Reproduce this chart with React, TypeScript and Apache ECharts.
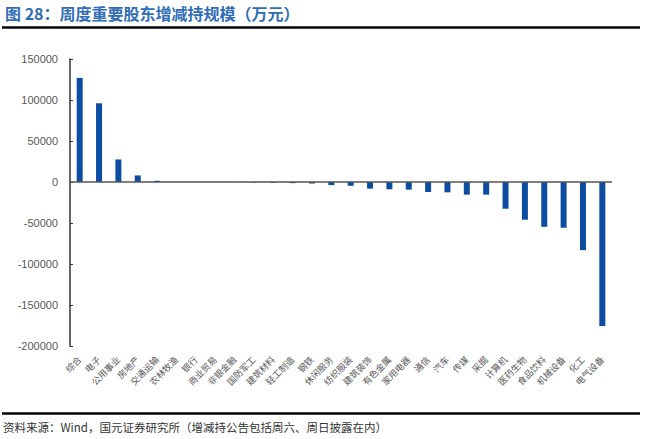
import React, { useEffect, useRef } from "react";
import * as echarts from "echarts";

const categories = [
  "综合", "电子", "公用事业", "房地产", "交通运输", "农林牧渔", "银行", "商业贸易",
  "非银金融", "国防军工", "建筑材料", "轻工制造", "钢铁", "休闲服务", "纺织服装", "建筑装饰",
  "有色金属", "家用电器", "通信", "汽车", "传媒", "采掘", "计算机", "医药生物",
  "食品饮料", "机械设备", "化工", "电气设备",
];

const values = [
  127000, 96000, 27500, 8000, 1500, 300, 0, 0,
  -200, -600, -1000, -1400, -1800, -3800, -4600, -8100,
  -8900, -9300, -12200, -12600, -15400, -15400, -32600, -46000,
  -54600, -55800, -83100, -175500,
];

const yMin = -200000;
const yMax = 150000;
const yInterval = 50000;

const titleText = "图 28：周度重要股东增减持规模（万元）";
const sourceText = "资料来源：Wind，国元证券研究所（增减持公告包括周六、周日披露在内）";

export default function App() {
  const ref = useRef<HTMLDivElement>(null);
  useEffect(() => {
    if (!ref.current) return;
    const chart = echarts.init(ref.current, null, { renderer: "svg" });
    chart.setOption({
      animation: false,
      backgroundColor: "#ffffff",
      grid: { left: 70, right: 43, top: 59, bottom: 93, containLabel: false },
      graphic: [
        {
          type: "text",
          left: 5,
          top: 5,
          style: {
            text: titleText,
            fill: "#2f6db6",
            font: 'bold 16px "Noto Sans CJK SC", sans-serif',
          },
        },
        {
          type: "line",
          shape: { x1: 2, y1: 27.5, x2: 640, y2: 27.5 },
          style: { stroke: "#000000", lineWidth: 2.5 },
        },
        {
          type: "line",
          shape: { x1: 2, y1: 413.5, x2: 640, y2: 413.5 },
          style: { stroke: "#000000", lineWidth: 2.5 },
        },
        {
          type: "text",
          left: 3,
          top: 421,
          style: {
            text: sourceText,
            fill: "#333333",
            font: '11.5px "Noto Sans CJK SC", sans-serif',
          },
        },
      ],
      xAxis: {
        type: "category",
        data: categories,
        axisLine: { show: false, onZero: false },
        axisTick: { show: false },
        axisLabel: {
          interval: 0,
          rotate: 45,
          fontSize: 9,
          margin: 12,
          color: "#595959",
          fontFamily: '"Noto Sans CJK SC", sans-serif',
        },
      },
      yAxis: {
        type: "value",
        min: yMin,
        max: yMax,
        interval: yInterval,
        axisLine: { show: true, lineStyle: { color: "#333333", width: 1.5 } },
        axisTick: { show: true, inside: true, length: 3, lineStyle: { color: "#333333" } },
        splitLine: { show: false },
        axisLabel: {
          fontSize: 11,
          margin: 12,
          color: "#595959",
          fontFamily: '"Liberation Sans", Arial, sans-serif',
          formatter: (v: number) => String(v),
        },
      },
      series: [
        {
          type: "bar",
          data: values,
          barWidth: 6,
          itemStyle: { color: "#0c4da2" },
          markLine: {
            silent: true,
            symbol: "none",
            label: { show: false },
            lineStyle: { color: "#555555", width: 1.5, type: "solid" },
            data: [{ yAxis: 0 }],
          },
        },
      ],
    });
    return () => chart.dispose();
  }, []);
  return (
    <div
      ref={ref}
      style={{ position: "fixed", left: 0, top: 0, width: 655, height: 439 }}
    />
  );
}
